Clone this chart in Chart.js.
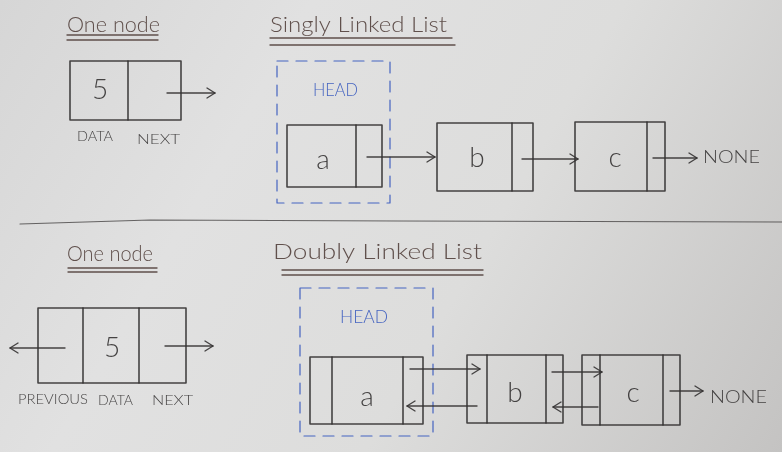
<!DOCTYPE html>
<html>
<head>
    <title>Linked List Sketch</title>
    <script src="https://cdn.jsdelivr.net/npm/chart.js@4.4.1/dist/chart.umd.min.js"></script>
    <style>
        html, body { margin: 0; padding: 0; background: #dcdcdc; }
        #sketch { display: block; }
    </style>
</head>
<body>
    <canvas id="sketch" width="782" height="452"></canvas>

    <script>
        /* node boxes, in page units (x right, y down) */
        const nodeNames  = ['5', 'a', 'b', 'c', '5', 'a', 'b', 'c'];
        const nodeLeft   = [70, 287, 437, 575, 38, 310, 467, 582];
        const nodeRight  = [181, 382, 533, 665, 186, 423, 563, 680];
        const nodeTop    = [61, 125, 123, 122, 308, 357, 355, 355];
        const nodeBottom = [120, 187, 191, 191, 383, 424, 423, 425];
        const nodeSplitA = [128, 356, 512, 647, 83, 332, 487, 600];
        const nodeSplitB = [null, null, null, null, 139, 403, 546, 663];
        const nodeLabelX = [100, 323, 477, 615, 112, 367, 515, 633];
        const nodeLabelY = [90, 160, 158, 158, 348, 397, 393, 393];

        /* pointers */
        const arrowFromX = [167, 367, 522, 653, 65, 165, 410, 477, 552, 598, 670];
        const arrowFromY = [93, 157, 159, 158, 348, 346, 369, 406, 372, 407, 391];
        const arrowToX   = [215, 435, 578, 697, 10, 213, 480, 407, 602, 553, 703];
        const arrowToY   = [93, 157, 159, 158, 348, 346, 369, 406, 372, 407, 391];

        /* HEAD frames (dashed) */
        const headLeft   = [277, 300];
        const headRight  = [390, 433];
        const headTop    = [61, 288];
        const headBottom = [203, 436];

        /* titles and captions */
        const textStrings = ['One node', 'Singly Linked List', 'DATA', 'NEXT', 'HEAD', 'NONE',
                             'One node', 'Doubly Linked List', 'PREVIOUS', 'DATA', 'NEXT', 'HEAD', 'NONE'];
        const textLeft  = [67, 270, 77, 137, 313, 703, 67, 273, 18, 98, 152, 340, 710];
        const textRight = [160, 447, 113, 180, 358, 760, 153, 482, 88, 133, 193, 388, 767];
        const textMidY  = [25, 25, 137, 140, 90, 158, 254, 252, 400, 401, 401, 317, 398];
        const textKind  = ['title', 'title', 'cap', 'cap', 'head', 'none',
                           'title', 'title', 'cap', 'cap', 'cap', 'head', 'none'];

        /* double underlines and the page divider */
        const underLeft  = [67, 67, 270, 270, 68, 68, 282, 282];
        const underRight = [158, 158, 452, 455, 157, 157, 483, 483];
        const underY     = [35, 40, 38, 45, 268, 272, 270, 275];
        const dividerX   = [20, 150, 400, 782];
        const dividerY   = [224, 220, 221, 222];

        const INK = 'rgba(52, 50, 50, 0.9)';
        const BROWN = 'rgba(82, 64, 60, 0.9)';
        const BLUE = 'rgba(52, 86, 190, 0.9)';
        const kindStyle = {
            title: { size: 21, color: BROWN },
            cap:   { size: 13, color: INK },
            head:  { size: 18, color: BLUE },
            none:  { size: 17, color: INK }
        };

        function line(points, color, width, dash) {
            return {
                data: points,
                showLine: true,
                borderColor: color,
                borderWidth: width,
                borderDash: dash || [],
                pointRadius: 0,
                fill: false,
                tension: 0
            };
        }

        function buildDatasets() {
            var sets = [];

            nodeNames.forEach(function(name, i) {
                var l = nodeLeft[i], r = nodeRight[i], t = nodeTop[i], b = nodeBottom[i];
                sets.push(line([{x: l, y: t}, {x: r, y: t}, {x: r, y: b}, {x: l, y: b}, {x: l, y: t}], INK, 1.6));
                sets.push(line([{x: nodeSplitA[i], y: t}, {x: nodeSplitA[i], y: b}], INK, 1.6));
                if (nodeSplitB[i] !== null) {
                    sets.push(line([{x: nodeSplitB[i], y: t}, {x: nodeSplitB[i], y: b}], INK, 1.6));
                }
            });

            arrowFromX.forEach(function(x0, i) {
                var y0 = arrowFromY[i], x1 = arrowToX[i], y1 = arrowToY[i];
                var dir = x1 > x0 ? 1 : -1;
                sets.push(line([{x: x0, y: y0}, {x: x1, y: y1}], INK, 1.4));
                sets.push(line([{x: x1 - dir * 8, y: y1 - 5}, {x: x1, y: y1}, {x: x1 - dir * 8, y: y1 + 5}], INK, 1.4));
            });

            headLeft.forEach(function(l, i) {
                var r = headRight[i], t = headTop[i], b = headBottom[i];
                sets.push(line([{x: l, y: t}, {x: r, y: t}, {x: r, y: b}, {x: l, y: b}, {x: l, y: t}], BLUE, 1.2, [11, 8]));
            });

            underLeft.forEach(function(l, i) {
                sets.push(line([{x: l, y: underY[i]}, {x: underRight[i], y: underY[i]}], BROWN, 1.4));
            });

            sets.push(line(dividerX.map(function(x, i) { return {x: x, y: dividerY[i]}; }), 'rgba(60,58,58,0.75)', 1.2));
            return sets;
        }

        const paperPlugin = {
            id: 'paper',
            beforeDraw: function(chart) {
                var ctx = chart.ctx;
                var g = ctx.createLinearGradient(0, 0, chart.width, chart.height);
                g.addColorStop(0, '#d6d6d6');
                g.addColorStop(0.3, '#e1e1e1');
                g.addColorStop(0.6, '#dddddc');
                g.addColorStop(1, '#c4c3c2');
                ctx.save();
                ctx.fillStyle = g;
                ctx.fillRect(0, 0, chart.width, chart.height);
                ctx.restore();
            }
        };

        const textPlugin = {
            id: 'sketchText',
            afterDatasetsDraw: function(chart) {
                var ctx = chart.ctx;
                var xs = chart.scales.x, ys = chart.scales.y;
                ctx.save();
                ctx.textBaseline = 'middle';

                // captions fitted to the width they take on the page
                textStrings.forEach(function(s, i) {
                    var st = kindStyle[textKind[i]];
                    var x0 = xs.getPixelForValue(textLeft[i]);
                    var x1 = xs.getPixelForValue(textRight[i]);
                    var y = ys.getPixelForValue(textMidY[i]);
                    ctx.font = '300 ' + st.size + 'px Lato, "DejaVu Sans", sans-serif';
                    ctx.fillStyle = st.color;
                    ctx.textAlign = 'left';
                    var w = ctx.measureText(s).width;
                    ctx.save();
                    ctx.translate(x0, y);
                    ctx.scale((x1 - x0) / w, 1);
                    ctx.fillText(s, 0, 0);
                    ctx.restore();
                });

                // node values
                nodeNames.forEach(function(s, i) {
                    ctx.font = '300 28px Lato, "DejaVu Sans", sans-serif';
                    ctx.fillStyle = INK;
                    ctx.textAlign = 'center';
                    ctx.fillText(s, xs.getPixelForValue(nodeLabelX[i]), ys.getPixelForValue(nodeLabelY[i]));
                });
                ctx.restore();
            }
        };

        var ctx = document.getElementById('sketch').getContext('2d');
        var sketch = new Chart(ctx, {
            type: 'scatter',
            data: { datasets: buildDatasets() },
            options: {
                responsive: false,
                animation: false,
                layout: { padding: 0 },
                plugins: {
                    legend: { display: false },
                    tooltip: { enabled: false }
                },
                scales: {
                    x: { type: 'linear', min: 0, max: 782, display: false },
                    y: { type: 'linear', min: 0, max: 452, reverse: true, display: false }
                },
                elements: { line: { borderCapStyle: 'round', borderJoinStyle: 'round' } }
            },
            plugins: [paperPlugin, textPlugin]
        });
    </script>
</body>
</html>
